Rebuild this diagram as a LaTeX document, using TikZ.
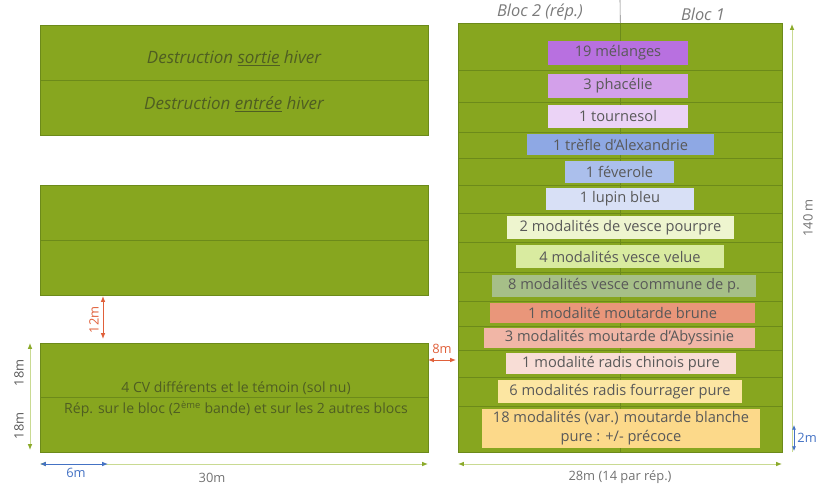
\documentclass[tikz,border=0pt]{standalone}
\usepackage{fontspec}
\setmainfont{Open Sans}
\usetikzlibrary{arrows.meta}

\definecolor{feld}{HTML}{87A61F}
\definecolor{feldrand}{HTML}{6C8A1A}
\definecolor{schrift}{HTML}{595959}
\definecolor{feldschrift}{HTML}{4F5E22}
\definecolor{massrot}{HTML}{E0603A}
\definecolor{massblau}{HTML}{4472C4}
\definecolor{massgruen}{HTML}{C9DA92}
\definecolor{spitzegruen}{HTML}{8BAA2A}
\definecolor{mischung}{HTML}{B870E0}
\definecolor{phacelie}{HTML}{D3A0EA}
\definecolor{tournesol}{HTML}{EBD3F6}
\definecolor{trefle}{HTML}{8EA8E4}
\definecolor{feverole}{HTML}{ABBFEC}
\definecolor{lupin}{HTML}{D8E0F6}
\definecolor{pourpre}{HTML}{EEF5CF}
\definecolor{velue}{HTML}{D9EBA0}
\definecolor{commune}{HTML}{A6BF88}
\definecolor{brune}{HTML}{E9967A}
\definecolor{abyssinie}{HTML}{F1B6A6}
\definecolor{chinois}{HTML}{F8DDD6}
\definecolor{fourrager}{HTML}{FCE6A2}
\definecolor{blanche}{HTML}{FCD98A}

\tikzstyle{parzelle} = [rectangle, anchor=north west, fill=feld, draw=feldrand, line width=0.5pt, inner sep=0pt]
\tikzstyle{trennlinie} = [draw=feldrand, line width=0.6pt]
\tikzstyle{modalite} = [rectangle, inner sep=0pt, text=schrift, align=center, font=\fontsize{12.5}{16}\selectfont]
\tikzstyle{feldtext} = [text=feldschrift, font=\fontsize{12}{14}\selectfont]
\tikzstyle{hivertext} = [text=feldschrift, font=\itshape\fontsize{14.5}{16}\selectfont]
\tikzstyle{bloctext} = [text=schrift!80, font=\itshape\fontsize{14}{16}\selectfont]
\tikzstyle{masstext} = [font=\fontsize{11}{13}\selectfont]
\tikzstyle{masspfeil} = [line width=0.8pt, {Latex[length=5pt,width=4pt]}-{Latex[length=5pt,width=4pt]}]

\begin{document}
\begin{tikzpicture}[x=0.03cm, y=-0.03cm]
	\useasboundingbox (0,0) rectangle (819,486);

	% parcelles de gauche
	\node (hiver)  [parzelle, minimum width=11.64cm, minimum height=3.3cm]  at (40,25) {};
	\node (vide)   [parzelle, minimum width=11.64cm, minimum height=3.3cm]  at (40,185) {};
	\node (temoin) [parzelle, minimum width=11.64cm, minimum height=3.27cm] at (40,343) {};
	\draw[trennlinie] (hiver.west)  -- (hiver.east);
	\draw[trennlinie] (vide.west)   -- (vide.east);
	\draw[trennlinie] (temoin.west) -- (temoin.east);

	\node (sortie) [hivertext] at (234,58)  {Destruction \underline{sortie} hiver};
	\node (entree) [hivertext] at (234,104) {Destruction \underline{entrée} hiver};
	\node (cv)     [feldtext] at (236,388) {4 CV différents et le témoin (sol nu)};
	\node (rep)    [feldtext] at (236,409) {Rép. sur le bloc (2\textsuperscript{ème} bande) et sur les 2 autres blocs};

	% parcelle de droite
	\node (bloc) [parzelle, minimum width=9.72cm, minimum height=12.87cm] at (458,23) {};
	\foreach \y in {70,102,132,158,185,213,242,272,301,326,350,377,406}
		\draw[trennlinie] (458,\y) -- (782,\y);
	\draw[gray, line width=0.5pt] (620,0) -- (bloc.north);
	\draw[feldrand, line width=0.5pt] (bloc.north) -- (bloc.south);
	\node (bloc2) [bloctext] at (540,12) {Bloc 2 (rép.)};
	\node (bloc1) [bloctext] at (703,14) {Bloc 1};

	\node (m1)  [modalite, fill=mischung,   minimum width=4.2cm,  minimum height=0.72cm] at (618,53)    {19 mélanges};
	\node (m2)  [modalite, fill=phacelie,   minimum width=4.2cm,  minimum height=0.72cm] at (618,86)    {3 phacélie};
	\node (m3)  [modalite, fill=tournesol,  minimum width=4.2cm,  minimum height=0.69cm] at (618,116.5) {1 tournesol};
	\node (m4)  [modalite, fill=trefle,     minimum width=5.61cm, minimum height=0.63cm] at (620.5,144.5) {1 trèfle d'Alexandrie};
	\node (m5)  [modalite, fill=feverole,   minimum width=3.27cm, minimum height=0.66cm] at (619.5,172) {1 féverole};
	\node (m6)  [modalite, fill=lupin,      minimum width=4.44cm, minimum height=0.66cm] at (620,199)   {1 lupin bleu};
	\node (m7)  [modalite, fill=pourpre,    minimum width=6.81cm, minimum height=0.69cm] at (620.5,227.5) {2 modalités de vesce pourpre};
	\node (m8)  [modalite, fill=velue,      minimum width=6.24cm, minimum height=0.69cm] at (620,256.5) {4 modalités vesce velue};
	\node (m9)  [modalite, fill=commune,    minimum width=7.92cm, minimum height=0.66cm] at (624,286)   {8 modalités vesce commune de p.};
	\node (m10) [modalite, fill=brune,      minimum width=7.95cm, minimum height=0.6cm]  at (622.5,313) {1 modalité moutarde brune};
	\node (m11) [modalite, fill=abyssinie,  minimum width=8.13cm, minimum height=0.6cm]  at (619.5,338) {3 modalités moutarde d’Abyssinie};
	\node (m12) [modalite, fill=chinois,    minimum width=6.9cm,  minimum height=0.63cm] at (621,363.5) {1 modalité radis chinois pure};
	\node (m13) [modalite, fill=fourrager,  minimum width=7.32cm, minimum height=0.69cm] at (620,391.5) {6 modalités radis fourrager pure};
	\node (m14) [modalite, fill=blanche,    minimum width=8.34cm, minimum height=1.17cm] at (621,428.5) {18 modalités (var.) moutarde blanche\\pure : +/- précoce};

	% cotes
	\coordinate (c12a) at (103,296);
	\coordinate (c12b) at (103,339);
	\draw[masspfeil, massrot] (c12a) -- node[masstext, rotate=90, left=2pt, anchor=south] {12m} (c12b);
	\coordinate (c8a) at (428,360);
	\coordinate (c8b) at (456,360);
	\draw[masspfeil, massrot] (c8a) -- node[masstext, above=2pt] {8m} (c8b);
	\coordinate (c18a) at (30,343);
	\coordinate (c18b) at (30,450);
	\draw[masspfeil, massgruen, {Latex[length=5pt,width=4pt,color=spitzegruen]}-{Latex[length=5pt,width=4pt,color=spitzegruen]}] (c18a) -- (c18b);
	\node (h18a) [masstext, text=schrift, rotate=90] at (19,373) {18m};
	\node (h18b) [masstext, text=schrift, rotate=90] at (19,426) {18m};
	\coordinate (c30a) at (40,464);
	\coordinate (c30b) at (428,464);
	\draw[masspfeil, massgruen, {Latex[length=5pt,width=4pt,color=spitzegruen]}-{Latex[length=5pt,width=4pt,color=spitzegruen]}] (c30a) -- (c30b);
	\node (l30) [masstext, text=schrift!85] at (212,478) {30m};
	\coordinate (c6a) at (40,464);
	\coordinate (c6b) at (108,464);
	\draw[masspfeil, massblau] (c6a) -- (c6b);
	\node (l6) [masstext, text=massblau] at (76,473) {6m};
	\coordinate (c28a) at (458,464);
	\coordinate (c28b) at (782,464);
	\draw[masspfeil, massgruen, {Latex[length=5pt,width=4pt,color=spitzegruen]}-{Latex[length=5pt,width=4pt,color=spitzegruen]}] (c28a) -- (c28b);
	\node (l28) [masstext, text=schrift!85] at (620,477) {28m (14 par rép.)};
	\coordinate (c140a) at (792,452);
	\coordinate (c140b) at (792,24);
	\draw[line width=0.8pt, massgruen, -{Latex[length=5pt,width=4pt,color=spitzegruen]}] (c140a) -- (c140b);
	\node (l140) [masstext, text=schrift!85, rotate=90] at (808,218) {140 m};
	\coordinate (c2a) at (794,425);
	\coordinate (c2b) at (794,451);
	\draw[masspfeil, massblau, line width=0.6pt, {Latex[length=4pt,width=3.5pt]}-{Latex[length=4pt,width=3.5pt]}] (c2a) -- (c2b);
	\node (l2) [masstext, text=massblau, anchor=west, inner sep=1pt] at (796,438) {2m};
\end{tikzpicture}
\end{document}
